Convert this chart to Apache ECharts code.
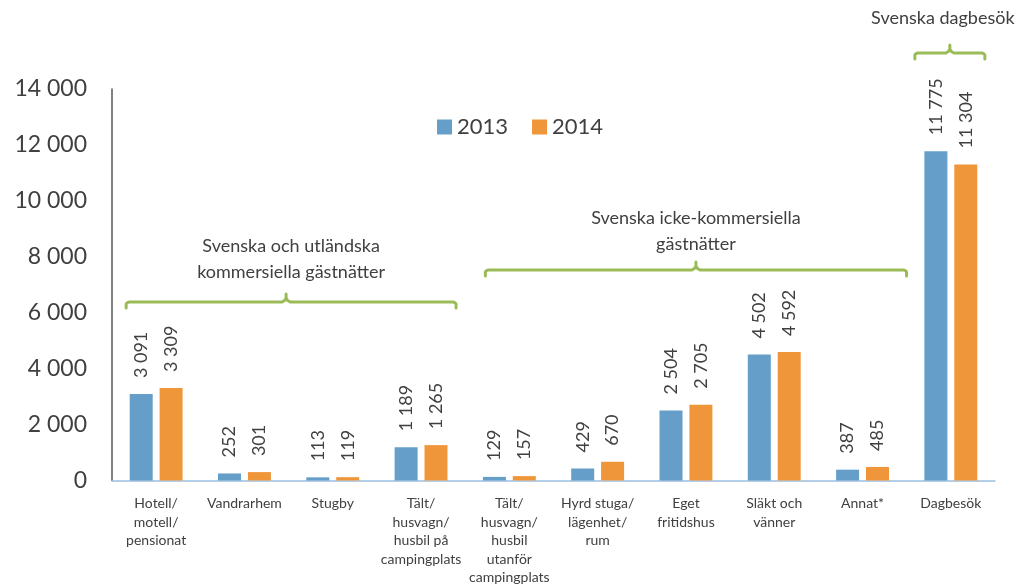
<!DOCTYPE html>
<html>
<head>
<meta charset="utf-8">
<script src="https://cdn.jsdelivr.net/npm/echarts@6/dist/echarts.min.js"></script>
<style>
html,body{margin:0;padding:0;background:#fff;}
#c{width:1025px;height:587px;}
</style>
</head>
<body>
<div id="c"></div>
<script>
const categories = [
  'Hotell/\nmotell/\npensionat',
  'Vandrarhem',
  'Stugby',
  'Tält/\nhusvagn/\nhusbil på\ncampingplats',
  'Tält/\nhusvagn/\nhusbil\nutanför\ncampingplats',
  'Hyrd stuga/\nlägenhet/\nrum',
  'Eget\nfritidshus',
  'Släkt och\nvänner',
  'Annat*',
  'Dagbesök'
];
const values2013 = [3091, 252, 113, 1189, 129, 429, 2504, 4502, 387, 11775];
const values2014 = [3309, 301, 119, 1265, 157, 670, 2705, 4592, 485, 11304];
const seriesNames = ['2013', '2014'];
const yTicks = [0, 2000, 4000, 6000, 8000, 10000, 12000, 14000];
const groupLabels = [
  'Svenska och utländska\nkommersiella gästnätter',
  'Svenska icke-kommersiella\ngästnätter',
  'Svenska dagbesök'
];

const FONT = 'Lato';
const TXT = '#404040';
const GREEN = '#9bbb59';
const fmt = v => String(v).replace(/\B(?=(\d{3})+(?!\d))/g, ' ');

const chart = echarts.init(document.getElementById('c'));
const labelCfg = {
  show: true, position: 'top', rotate: 90, align: 'left', verticalAlign: 'middle',
  distance: 16, color: TXT, fontFamily: FONT, fontSize: 18,
  formatter: p => fmt(p.value)
};
chart.setOption({
  animation: false,
  textStyle: { fontFamily: FONT },
  grid: { left: 112, right: 30, top: 89, bottom: 105, containLabel: false },
  legend: {
    data: seriesNames, left: 432, top: 111, itemWidth: 15, itemHeight: 15, itemGap: 24,
    icon: 'rect', textStyle: { color: TXT, fontSize: 22, fontFamily: FONT }
  },
  xAxis: {
    type: 'category', data: categories,
    axisLine: { lineStyle: { color: '#9dbfe0', width: 1.5 } },
    axisTick: { show: false },
    axisLabel: { interval: 0, color: TXT, fontSize: 14, lineHeight: 18.5, fontFamily: FONT, margin: 14 }
  },
  yAxis: {
    type: 'value', min: yTicks[0], max: yTicks[yTicks.length - 1], interval: 2000,
    axisLine: { show: true, lineStyle: { color: '#595959', width: 1.5 } },
    axisTick: { show: false },
    splitLine: { show: false },
    axisLabel: { color: TXT, fontSize: 23, fontFamily: FONT, margin: 25, formatter: v => fmt(v) }
  },
  series: [
    { name: seriesNames[0], type: 'bar', data: values2013, barWidth: 23, barGap: '30%',
      itemStyle: { color: '#659fc9' }, label: labelCfg },
    { name: seriesNames[1], type: 'bar', data: values2014, barWidth: 23, barGap: '30%',
      itemStyle: { color: '#f0963a' }, label: labelCfg }
  ]
});

function cx(i) { return chart.convertToPixel({ xAxisIndex: 0 }, i); }
function bracket(x1, x2, xc, y) {
  const pts = [
    [x1, y + 6], [x1, y + 2], [x1 + 1.2, y + 0.6], [x1 + 3, y],
    [xc - 4, y], [xc - 1.5, y - 1.5], [xc, y - 4], [xc, y - 8],
    [xc, y - 4], [xc + 1.5, y - 1.5], [xc + 4, y],
    [x2 - 3, y], [x2 - 1.2, y + 0.6], [x2, y + 2], [x2, y + 6]
  ];
  return {
    type: 'polyline',
    shape: { points: pts },
    style: { stroke: GREEN, lineWidth: 3, fill: null, lineJoin: 'round', lineCap: 'round' }
  };
}
function label(text, x, y) {
  return { type: 'text', x: x, y: y,
    style: { text: text, fill: TXT, fontSize: 18, fontFamily: FONT, align: 'center', verticalAlign: 'top', lineHeight: 26 } };
}
const b1 = [cx(0) - 30, cx(3) + 35], b2 = [cx(4) - 24, cx(8) + 44], b3 = [cx(9) - 36, cx(9) + 34];
const y1 = 302, y2 = 270, y3 = 53;
const xm1 = (b1[0] + b1[1]) / 2 - 5, xm2 = (b2[0] + b2[1]) / 2, xm3 = (b3[0] + b3[1]) / 2;
chart.setOption({
  graphic: [
    bracket(b1[0], b1[1], xm1, y1),
    bracket(b2[0], b2[1], xm2, y2),
    bracket(b3[0], b3[1], xm3, y3),
    label(groupLabels[0], xm1 + 5, 233),
    label(groupLabels[1], xm2, 205),
    label(groupLabels[2], xm3 - 7, 5)
  ]
});
</script>
</body>
</html>
